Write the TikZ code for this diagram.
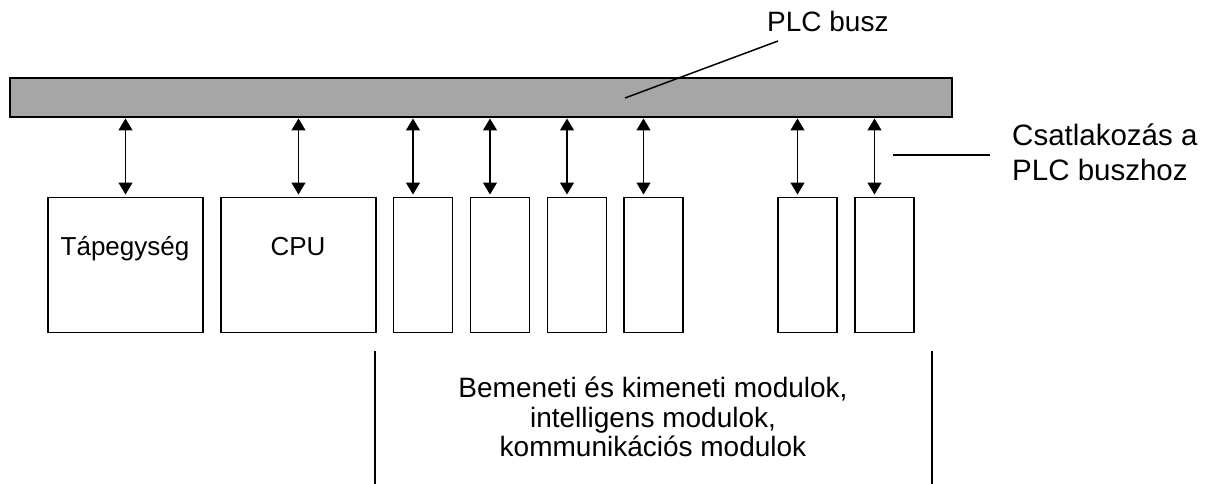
\documentclass[tikz,border=0pt]{standalone}
\usepackage{fontspec}
\setmainfont{Liberation Sans}
\usetikzlibrary{arrows.meta}
\begin{document}
\begin{tikzpicture}[x=1pt,y=-1pt,
  bus/.style={draw=black,line width=1.6pt,fill=busgray,inner sep=0pt,outer sep=0pt,
    minimum width=942pt,minimum height=39pt},
  unit/.style={draw=black,line width=1.6pt,inner sep=0pt,outer sep=0pt,
    minimum height=135pt},
  link/.style={line width=1.3pt,{Triangle[length=12pt,width=14pt]}-{Triangle[length=12pt,width=14pt]},
    shorten <=1.5pt,shorten >=3pt},
  lead/.style={line width=1.5pt},
  lbl/.style={inner sep=0pt,anchor=base,font=\fontsize{26}{30}\selectfont},
  txt/.style={inner sep=0pt,font=\fontsize{28}{32}\selectfont},
  side/.style={inner sep=0pt,font=\fontsize{29.5}{34}\selectfont}]
\definecolor{busgray}{RGB}{166,166,166}
\useasboundingbox (0,0) rectangle (1205,484);

% the bus bar
\node[bus] (bus) at (481,97.5) {};

% power supply and CPU
\node[unit,minimum width=155pt] (psu) at (125.5,265) {};
\node[unit,minimum width=155pt] (cpu) at (298.5,265) {};
\node[lbl] (psutxt) at (125,255) {Tápegység};
\node[lbl] (cputxt) at (298,255) {CPU};

% I/O modules
\node[unit,minimum width=59pt] (m1) at (423,265) {};
\node[unit,minimum width=59pt] (m2) at (500,265) {};
\node[unit,minimum width=59pt] (m3) at (577,265) {};
\node[unit,minimum width=59pt] (m4) at (653.5,265) {};
\node[unit,minimum width=59pt] (m5) at (807.5,265) {};
\node[unit,minimum width=59pt] (m6) at (884.5,265) {};

% bus connections
\draw[link] (psu.north |- bus.south) -- (psu.north);
\draw[link] (cpu.north |- bus.south) -- (cpu.north);
\foreach \m in {m1,m2,m3,m4,m5,m6}
  \draw[link] ([xshift=-10pt]\m.north |- bus.south) -- ([xshift=-10pt]\m.north);

% bus label
\node[txt,anchor=base west] (buslbl) at (767,32) {PLC busz};
\coordinate (busin) at (625,98);
\coordinate (busout) at (778,41);
\draw[lead] (busin) -- (busout);

% connection label
\node[side,anchor=base west] (conn1) at (1012,146) {Csatlakozás a};
\node[side,anchor=base west] (conn2) at (1012,181) {PLC buszhoz};
\coordinate (cl) at (893,155);
\coordinate (cr) at (990,155);
\draw[lead] (cl) -- (cr);

% module group bracket
\coordinate (gl1) at (375,351);
\coordinate (gl2) at (375,484);
\coordinate (gr1) at (932,351);
\coordinate (gr2) at (932,484);
\draw[lead] (gl1) -- (gl2);
\draw[lead] (gr1) -- (gr2);
\node[txt,anchor=base] (g1) at (653,397) {Bemeneti és kimeneti modulok,};
\node[txt,anchor=base] (g2) at (653,427) {intelligens modulok,};
\node[txt,anchor=base] (g3) at (653,456) {kommunikációs modulok};
\end{tikzpicture}
\end{document}
